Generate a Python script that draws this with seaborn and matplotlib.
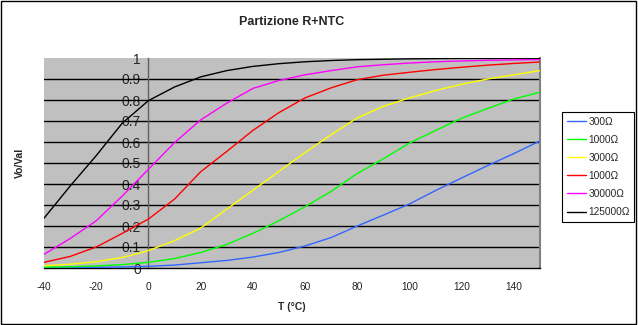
import numpy as np
import pandas as pd
import matplotlib
matplotlib.use("Agg")
import matplotlib.pyplot as plt
import seaborn as sns
from matplotlib.patches import Rectangle
from matplotlib.lines import Line2D

# ---- data ----
temps = [-40, -30, -20, -10, 0, 10, 20, 30, 40, 50, 60, 70, 80, 90, 100, 110, 120, 130, 140, 150]
r300 = [0.001, 0.002, 0.003, 0.005, 0.008, 0.014, 0.025, 0.036, 0.052, 0.074, 0.105, 0.145, 0.200, 0.252,
        0.305, 0.369, 0.429, 0.488, 0.545, 0.605]
r1000 = [0.004, 0.006, 0.010, 0.016, 0.027, 0.045, 0.074, 0.112, 0.165, 0.225, 0.292, 0.365, 0.450, 0.520,
         0.595, 0.655, 0.713, 0.760, 0.805, 0.837]
r3000 = [0.011, 0.018, 0.030, 0.050, 0.083, 0.130, 0.190, 0.280, 0.370, 0.460, 0.550, 0.635, 0.715, 0.770,
         0.810, 0.845, 0.875, 0.900, 0.920, 0.940]
r10000 = [0.027, 0.055, 0.100, 0.165, 0.233, 0.328, 0.458, 0.555, 0.655, 0.740, 0.810, 0.858, 0.897, 0.918,
          0.932, 0.945, 0.956, 0.966, 0.974, 0.981]
r30000 = [0.065, 0.140, 0.225, 0.343, 0.470, 0.597, 0.705, 0.785, 0.855, 0.893, 0.920, 0.940, 0.958, 0.968,
          0.976, 0.982, 0.986, 0.989, 0.991, 0.993]
r125000 = [0.237, 0.390, 0.535, 0.690, 0.797, 0.862, 0.910, 0.940, 0.960, 0.973, 0.982, 0.988, 0.992, 0.994,
           0.996, 0.997, 0.998, 0.998, 0.999, 0.999]
series_labels = ["300Ω", "1000Ω", "3000Ω", "1000Ω ", "30000Ω", "125000Ω"]
series_values = [r300, r1000, r3000, r10000, r30000, r125000]
series_colors = ["#3366FF", "#00FF00", "#FFFF00", "#FF0000", "#FF00FF", "#000000"]
xticks = [-40, -20, 0, 20, 40, 60, 80, 100, 120, 140]
yticks = [0, 0.1, 0.2, 0.3, 0.4, 0.5, 0.6, 0.7, 0.8, 0.9, 1.0]
ytick_labels = ["0", "0.1", "0.2", "0.3", "0.4", "0.5", "0.6", "0.7", "0.8", "0.9", "1"]

rows = []
for lab, vals in zip(series_labels, series_values):
    for t, v in zip(temps, vals):
        rows.append({"T": t, "V": v, "serie": lab})
df = pd.DataFrame(rows)

sns.set_style("white")
plt.rcParams["font.family"] = ["Liberation Sans", "DejaVu Sans"]

fig = plt.figure(figsize=(6.38, 3.25), dpi=100)
ax = fig.add_axes([44 / 638, 1 - 268 / 325, 496 / 638, 210 / 325])
ax.set_facecolor("#C0C0C0")

for y in yticks[1:-1]:
    ax.axhline(y, color="black", lw=1.0, zorder=1)

sns.lineplot(data=df, x="T", y="V", hue="serie", hue_order=series_labels,
             palette=dict(zip(series_labels, series_colors)), ax=ax, lw=1.0,
             legend=False, zorder=3)

ax.set_xlim(-40, 150)
ax.set_ylim(0, 1)
ax.set_xticks(xticks)
ax.set_xticklabels([str(x) for x in xticks], fontsize=7.3, color="#222222")
ax.set_yticks(yticks)
ax.set_yticklabels(ytick_labels, fontsize=7.3, color="#333333")

ax.spines["left"].set_position(("data", 0))
ax.spines["left"].set_color("#606060")
ax.spines["left"].set_linewidth(1.0)
ax.spines["left"].set_zorder(2)
ax.spines["bottom"].set_color("black")
ax.spines["bottom"].set_linewidth(1.0)
ax.spines["top"].set_visible(False)
ax.spines["right"].set_color("#808080")
ax.spines["right"].set_linewidth(1.5)
ax.tick_params(axis="both", direction="out", length=4, width=0.8, pad=1.5)
ax.tick_params(axis="x", pad=6)

ax.set_xlabel("T (°C)", fontsize=7.5, fontweight="bold", labelpad=7)
ax.set_ylabel("")
fig.text(20 / 638, 1 - 163 / 325, "Vo/Val", rotation=90, ha="center", va="center",
         fontsize=7.5, fontweight="bold")
fig.text(292 / 638, 1 - 22 / 325, "Partizione R+NTC", ha="center", va="center",
         fontsize=9, fontweight="bold")

# legend
handles = [Line2D([0], [0], color=c, lw=1.0) for c in series_colors]
leg = fig.legend(handles, [s.strip() for s in series_labels], loc="upper left",
                 bbox_to_anchor=(562 / 638, 1 - 112 / 325), fontsize=7.3,
                 frameon=True, fancybox=False, edgecolor="black", framealpha=1,
                 handlelength=1.9, handletextpad=0.25, labelspacing=0.8,
                 borderpad=0.45, borderaxespad=0)
leg.get_frame().set_linewidth(0.8)

fig.patches.append(Rectangle((0.002, 0.003), 0.995, 0.993, transform=fig.transFigure,
                             fill=False, edgecolor="black", lw=1.0))

fig.savefig("out.png", dpi=100)
